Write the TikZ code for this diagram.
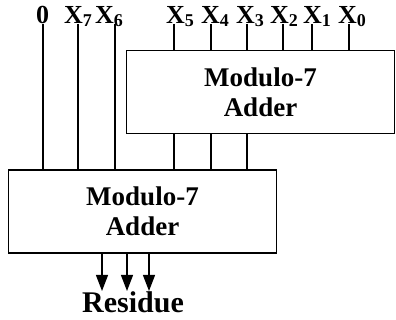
\documentclass[tikz,border=0pt]{standalone}
\usepackage{fontspec}
\setmainfont{Liberation Serif}
\usetikzlibrary{arrows.meta}
\newcommand{\xsub}[1]{X\raisebox{-3pt}{\fontsize{18}{18}\selectfont #1}}

\begin{document}
\begin{tikzpicture}[x=1pt,y=-1pt,
  lbl/.style={anchor=base west,inner sep=0pt,font=\fontsize{26}{26}\selectfont\bfseries},
  adder/.style={draw,line width=1.5pt,minimum width=268pt,minimum height=83pt,align=center,font=\fontsize{27}{30}\selectfont\bfseries},
  wire/.style={line width=1.2pt},
  reswire/.style={line width=1.2pt,-{Triangle[width=12pt,length=16pt]}}]
\useasboundingbox (0,0) rectangle (396,320);
\node[adder](add1) at (260.5,92){Modulo-7\\Adder};
\node[adder](add2) at (142.5,211.5){Modulo-7\\Adder};
\node[lbl](in0) at (36,24){0};
\node[lbl](in7) at (64,24){\xsub{7}};
\node[lbl](in6) at (95,24){\xsub{6}};
\node[lbl](in5) at (166,24){\xsub{5}};
\node[lbl](in4) at (201,24){\xsub{4}};
\node[lbl](in3) at (236,24){\xsub{3}};
\node[lbl](in2) at (270,24){\xsub{2}};
\node[lbl](in1) at (303,24){\xsub{1}};
\node[lbl](in0b) at (338,24){\xsub{0}};
\node[anchor=base,inner sep=0pt,font=\fontsize{30}{30}\selectfont\bfseries](res) at (133,312){Residue};
\coordinate(w0) at (43,0);
\coordinate(w7) at (78,0);
\coordinate(w6) at (115,0);
\coordinate(w5) at (174,0);
\coordinate(w4) at (211,0);
\coordinate(w3) at (247,0);
\coordinate(w2) at (283,0);
\coordinate(w1) at (312,0);
\coordinate(w0b) at (349,0);
\coordinate(r1) at (102,0);
\coordinate(r2) at (127,0);
\coordinate(r3) at (149,0);
\draw[wire](in0.base -| w0) -- (add2.north -| w0);
\draw[wire](in7.base -| w7) -- (add2.north -| w7);
\draw[wire](in6.base -| w6) -- (add2.north -| w6);
\draw[wire](in5.base -| w5) -- (add1.north -| w5);
\draw[wire](in4.base -| w4) -- (add1.north -| w4);
\draw[wire](in3.base -| w3) -- (add1.north -| w3);
\draw[wire](in2.base -| w2) -- (add1.north -| w2);
\draw[wire](in1.base -| w1) -- (add1.north -| w1);
\draw[wire](in0b.base -| w0b) -- (add1.north -| w0b);
\draw[wire](add1.south -| w5) -- (add2.north -| w5);
\draw[wire](add1.south -| w4) -- (add2.north -| w4);
\draw[wire](add1.south -| w3) -- (add2.north -| w3);
\draw[reswire](add2.south -| r1) -- (res.north -| r1);
\draw[reswire](add2.south -| r2) -- (res.north -| r2);
\draw[reswire](add2.south -| r3) -- (res.north -| r3);
\end{tikzpicture}
\end{document}
